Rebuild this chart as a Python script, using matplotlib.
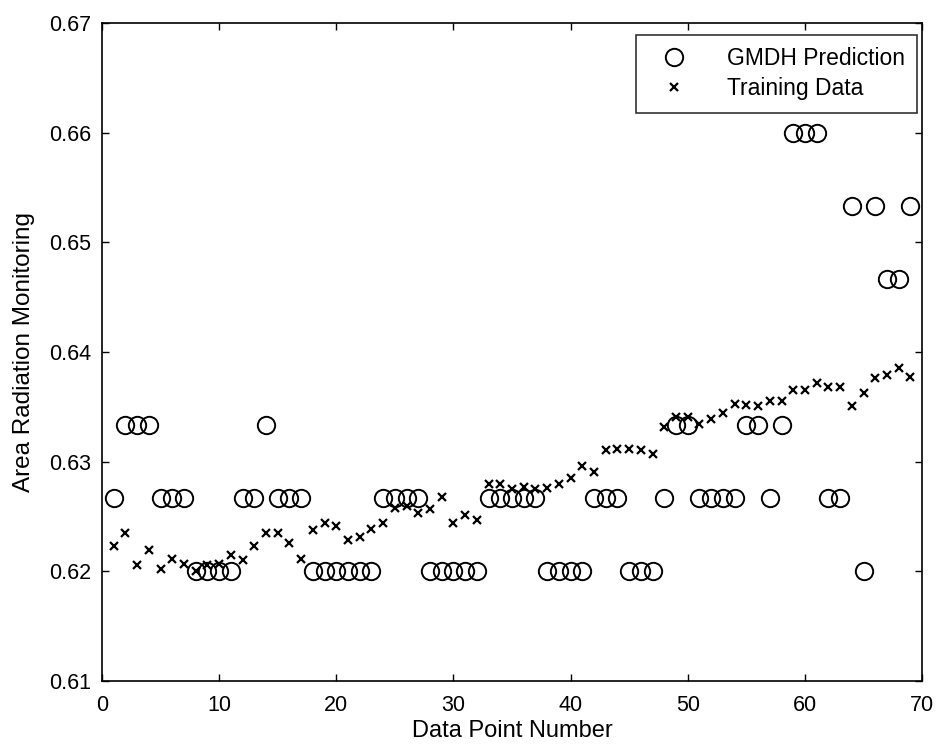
import matplotlib
matplotlib.use('Agg')
import matplotlib.pyplot as plt

# data point numbers 1..69
point_numbers = list(range(1, 70))

# GMDH prediction (quantized levels)
gmdh_prediction = [
    0.6267, 0.6333, 0.6333, 0.6333, 0.6267, 0.6267, 0.6267, 0.6200, 0.6200, 0.6200,
    0.6200, 0.6267, 0.6267, 0.6333, 0.6267, 0.6267, 0.6267, 0.6200, 0.6200, 0.6200,
    0.6200, 0.6200, 0.6200, 0.6267, 0.6267, 0.6267, 0.6267, 0.6200, 0.6200, 0.6200,
    0.6200, 0.6200, 0.6267, 0.6267, 0.6267, 0.6267, 0.6267, 0.6200, 0.6200, 0.6200,
    0.6200, 0.6267, 0.6267, 0.6267, 0.6200, 0.6200, 0.6200, 0.6267, 0.6333, 0.6333,
    0.6267, 0.6267, 0.6267, 0.6267, 0.6333, 0.6333, 0.6267, 0.6333, 0.6600, 0.6600,
    0.6600, 0.6267, 0.6267, 0.6533, 0.6200, 0.6533, 0.6467, 0.6467, 0.6533,
]

# training data
training_data = [
    0.6223, 0.6235, 0.6206, 0.6219, 0.6202, 0.6211, 0.6207, 0.6200, 0.6206, 0.6207,
    0.6215, 0.6210, 0.6223, 0.6235, 0.6235, 0.6226, 0.6211, 0.6238, 0.6244, 0.6241,
    0.6229, 0.6231, 0.6239, 0.6244, 0.6258, 0.6260, 0.6253, 0.6257, 0.6268, 0.6244,
    0.6251, 0.6247, 0.6280, 0.6280, 0.6275, 0.6277, 0.6275, 0.6276, 0.6280, 0.6285,
    0.6296, 0.6291, 0.6311, 0.6312, 0.6312, 0.6311, 0.6307, 0.6332, 0.6341, 0.6341,
    0.6334, 0.6339, 0.6344, 0.6353, 0.6352, 0.6351, 0.6355, 0.6355, 0.6365, 0.6365,
    0.6372, 0.6368, 0.6368, 0.6351, 0.6363, 0.6376, 0.6379, 0.6385, 0.6377,
]

x_ticks = [0, 10, 20, 30, 40, 50, 60, 70]
y_ticks = [0.61, 0.62, 0.63, 0.64, 0.65, 0.66, 0.67]

plt.rcParams['font.family'] = ['Liberation Sans', 'DejaVu Sans']

fig = plt.figure(figsize=(9.39, 7.51), dpi=100)
ax = fig.add_axes([0.1086, 0.0932, 0.8734, 0.8762])

ax.plot(point_numbers, gmdh_prediction, linestyle='none', marker='o', markersize=12.5,
        markerfacecolor='none', markeredgecolor='black', markeredgewidth=1.4,
        label='GMDH Prediction')
ax.plot(point_numbers, training_data, linestyle='none', marker='x', markersize=5.2,
        color='black', markeredgewidth=1.6, label='Training Data')

ax.set_xlim(0, 70)
ax.set_ylim(0.61, 0.67)
ax.set_xticks(x_ticks)
ax.set_yticks(y_ticks)
ax.set_yticklabels([f'{v:.2f}' for v in y_ticks])
ax.tick_params(direction='in', top=True, right=True, length=5, width=1,
               labelsize=15.5, colors='black')
ax.tick_params(axis='x', pad=10)
ax.tick_params(axis='y', pad=8)
for spine in ax.spines.values():
    spine.set_linewidth(1.2)
    spine.set_color('black')

ax.set_xlabel('Data Point Number', fontsize=17, labelpad=3)
ax.set_ylabel('Area Radiation Monitoring', fontsize=17.5, labelpad=10)

leg = ax.legend(loc='upper right', bbox_to_anchor=(0.994, 0.982), fontsize=16.5,
                frameon=True, fancybox=False, edgecolor='black', borderaxespad=0,
                handlelength=2.2, handletextpad=1.2, borderpad=0.55, labelspacing=0.3)
leg.get_frame().set_linewidth(1.2)

fig.savefig('out.png', dpi=100)
plt.close(fig)
